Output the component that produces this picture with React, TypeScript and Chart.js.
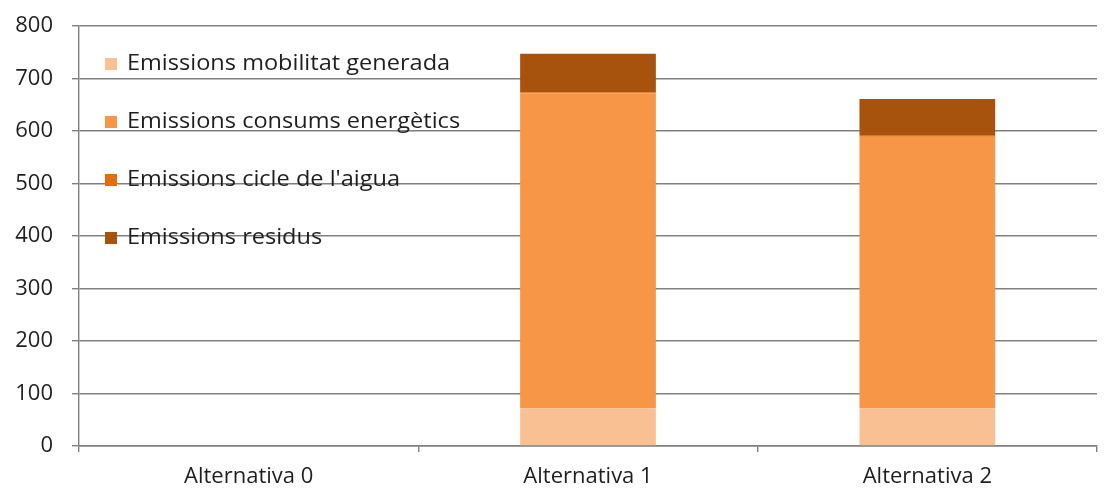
import React, { useEffect, useRef } from "react";
import { Chart, registerables } from "chart.js";

Chart.register(...registerables);

const categories = ["Alternativa 0", "Alternativa 1", "Alternativa 2"];
const mobilitat = [0, 72, 72];
const consums = [0, 600, 517];
const cicleAigua = [0, 2, 2];
const residus = [0, 73, 70];
const yTicks = [0, 100, 200, 300, 400, 500, 600, 700, 800];

const seriesLabels = [
  "Emissions mobilitat generada",
  "Emissions consums energètics",
  "Emissions cicle de l'aigua",
  "Emissions residus",
];
const seriesColors = ["#F9C193", "#F79646", "#E46C0A", "#A8530D"];

const FONT = "'Open Sans', sans-serif";

const insideLegend = {
  id: "insideLegend",
  afterDraw(chart: any) {
    const { ctx, chartArea } = chart;
    ctx.save();
    ctx.font = `22px ${FONT}`;
    ctx.textBaseline = "middle";
    ctx.textAlign = "left";
    chart.data.datasets.forEach((ds: any, i: number) => {
      const y = chartArea.top + 38 + i * 58;
      const x = chartArea.left + 26;
      ctx.fillStyle = ds.backgroundColor;
      ctx.fillRect(x, y - 6, 12, 12);
      ctx.fillStyle = "#1f1f1f";
      ctx.save();
      ctx.translate(x + 22, y);
      ctx.scale(1.07, 1);
      ctx.fillText(ds.label, 0, 0);
      ctx.restore();
    });
    ctx.restore();
  },
};

export default function App() {
  const ref = useRef<HTMLCanvasElement>(null);
  useEffect(() => {
    if (!ref.current) return;
    const values = [mobilitat, consums, cicleAigua, residus];
    const chart = new Chart(ref.current, {
      type: "bar",
      data: {
        labels: categories,
        datasets: values.map((v, i) => ({
          label: seriesLabels[i],
          data: v,
          backgroundColor: seriesColors[i],
          borderWidth: 0,
          barPercentage: 0.4,
          categoryPercentage: 1,
        })),
      },
      options: {
        animation: false,
        responsive: true,
        maintainAspectRatio: false,
        layout: { padding: { left: 0, top: 26, right: 12, bottom: 0 } },
        plugins: {
          legend: { display: false },
          tooltip: { enabled: false },
        },
        scales: {
          x: {
            stacked: true,
            offset: true,
            grid: {
              offset: true,
              drawOnChartArea: false,
              drawTicks: true,
              tickLength: 6,
              color: "#808080",
              lineWidth: 1.4,
            },
            border: { display: true, color: "#808080", width: 1.4 },
            ticks: {
              color: "#1f1f1f",
              font: { family: FONT, size: 22 },
              padding: 12,
              maxRotation: 0,
            },
            afterFit(scale: any) {
              scale.height = 44;
              scale.paddingLeft = 0;
              scale.paddingRight = 0;
            },
          },
          y: {
            stacked: true,
            min: 0,
            max: 800,
            afterBuildTicks(scale: any) {
              scale.ticks = yTicks.map((v) => ({ value: v }));
            },
            grid: {
              color: "#808080",
              lineWidth: 1.4,
              drawTicks: true,
              tickLength: 7,
            },
            border: { display: true, color: "#808080", width: 1.4 },
            ticks: {
              color: "#1f1f1f",
              font: { family: FONT, size: 22 },
              padding: 19,
            },
            afterFit(scale: any) {
              scale.width = 79;
              scale.paddingTop = 0;
              scale.paddingBottom = 0;
            },
          },
        },
      },
      plugins: [insideLegend],
    });
    return () => chart.destroy();
  }, []);
  return (
    <div style={{ position: "fixed", left: 0, top: 0, width: 1109, height: 490, background: "#fff" }}>
      <canvas ref={ref} />
    </div>
  );
}
